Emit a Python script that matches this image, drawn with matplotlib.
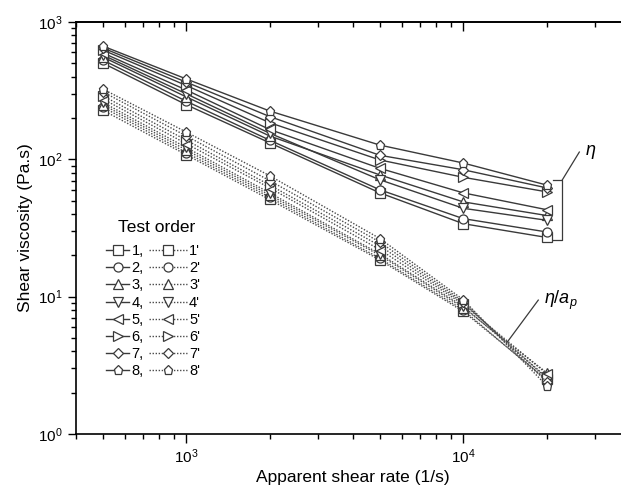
import matplotlib
matplotlib.use("Agg")
import matplotlib.pyplot as plt

plt.rcParams["font.family"] = ["Liberation Sans", "DejaVu Sans"]
plt.rcParams["mathtext.fontset"] = "custom"
plt.rcParams["mathtext.rm"] = "Liberation Sans"
plt.rcParams["mathtext.it"] = "Liberation Sans:italic"

# shear rate (1/s)
shear_rate = [500, 1000, 2000, 5000, 10000, 20000]
orders = ["1", "2", "3", "4", "5", "6", "7", "8"]
markers = ["s", "o", "^", "v", "<", ">", "D", "p"]

# shear viscosity eta (Pa.s), test order 1..8
eta = [
    [502, 250, 132, 57, 34, 27],
    [528, 265, 138, 60, 37, 29.6],
    [556, 285, 148, 77, 49, 39],
    [575, 300, 155, 71, 44, 36],
    [595, 320, 165, 86, 57, 43],
    [625, 345, 185, 99, 74, 58],
    [647, 365, 205, 107, 84, 62],
    [668, 385, 225, 127, 94, 65],
]

# corrected viscosity eta/a_p, test order 1'..8'
eta_ap = [
    [228, 108, 51, 18.5, 7.8, 2.5],
    [240, 112, 53, 19, 8.0, 2.45],
    [250, 117, 55, 20, 8.3, 2.8],
    [260, 122, 57, 20.5, 8.5, 2.6],
    [275, 130, 62, 22, 8.8, 2.75],
    [290, 138, 65, 23.5, 9.0, 2.55],
    [310, 148, 70, 25, 9.2, 2.4],
    [325, 158, 76, 26.5, 9.5, 2.25],
]

W, H = 621, 487
fig = plt.figure(figsize=(W / 100, H / 100), dpi=100)
ax = fig.add_axes([76 / W, 53 / H, (630 - 76) / W, (434 - 22) / H])

solid_handles = []
dotted_handles = []
for i in range(8):
    ms = 5.2 if markers[i] == "D" else 6.5
    h1, = ax.plot(shear_rate, eta[i], color="#3a3a3a", lw=1.0, marker=markers[i],
                  ms=ms, mfc="white", mec="#3a3a3a", mew=0.9)
    h2, = ax.plot(shear_rate, eta_ap[i], color="#4a4a4a", lw=1.0, ls=(0, (1, 1.2)),
                  marker=markers[i], ms=ms, mfc="white", mec="#3a3a3a", mew=0.9)
    solid_handles.append(h1)
    dotted_handles.append(h2)

ax.set_xscale("log")
ax.set_yscale("log")
ax.set_xlim(400, 40000)
ax.set_ylim(1, 1000)

ax.spines["right"].set_visible(False)
for s in ["left", "bottom", "top"]:
    ax.spines[s].set_linewidth(1.2)

ax.tick_params(axis="x", which="both", bottom=True, top=False, direction="out", width=1.0)
ax.tick_params(axis="x", which="major", length=6.5, labelsize=11, pad=3)
ax.tick_params(axis="x", which="minor", length=3.5, labelbottom=False)
ax.tick_params(axis="y", which="major", length=6, width=1.0, labelsize=11, direction="out")
ax.tick_params(axis="y", which="minor", length=3.5, width=1.0, direction="out")
ax.tick_params(axis="y", right=False, which="both")

# top ticks point into the plot
top = ax.secondary_xaxis("top")
top.spines["top"].set_linewidth(1.2)
top.tick_params(which="both", direction="in", width=1.0, labeltop=False)
top.tick_params(which="major", length=6.5)
top.tick_params(which="minor", length=3.5)

ax.set_xlabel("Apparent shear rate (1/s)", fontsize=12.5, labelpad=3)
ax.set_ylabel("Shear viscosity (Pa.s)", fontsize=12.5, labelpad=4)

# bracket for eta
ax.plot([21150, 22760, 22760, 21150], [70.6, 70.6, 25.8, 25.8], color="#3a3a3a", lw=0.9)
ax.plot([22760, 26250], [70.6, 113], color="#3a3a3a", lw=0.9)
ax.text(27600, 113, r"$\eta$", fontsize=13, va="center", ha="left")
ax.plot([14420, 18660], [4.67, 9.44], color="#3a3a3a", lw=0.9)
ax.text(19600, 9.44, r"$\eta$/$a_p$", fontsize=13, va="center", ha="left")

# legend
ax.text((118 - 76) / 554, (434 - 228) / 412, "Test order", transform=ax.transAxes,
        fontsize=12.5, va="center", ha="left")
leg1 = ax.legend(solid_handles, [o + "," for o in orders], loc="upper left",
                 bbox_to_anchor=((106 - 76) / 554, (434 - 244) / 412), frameon=False,
                 fontsize=10.5, handlelength=1.6, handletextpad=0.15, labelspacing=0.22,
                 borderaxespad=0, borderpad=0)
ax.add_artist(leg1)
ax.legend(dotted_handles, [o + "'" for o in orders], loc="upper left",
          bbox_to_anchor=((149 - 76) / 554, (434 - 244) / 412), frameon=False,
          fontsize=10.5, handlelength=2.6, handletextpad=0.15, labelspacing=0.22,
          borderaxespad=0, borderpad=0)

fig.savefig("out.png", dpi=100)
